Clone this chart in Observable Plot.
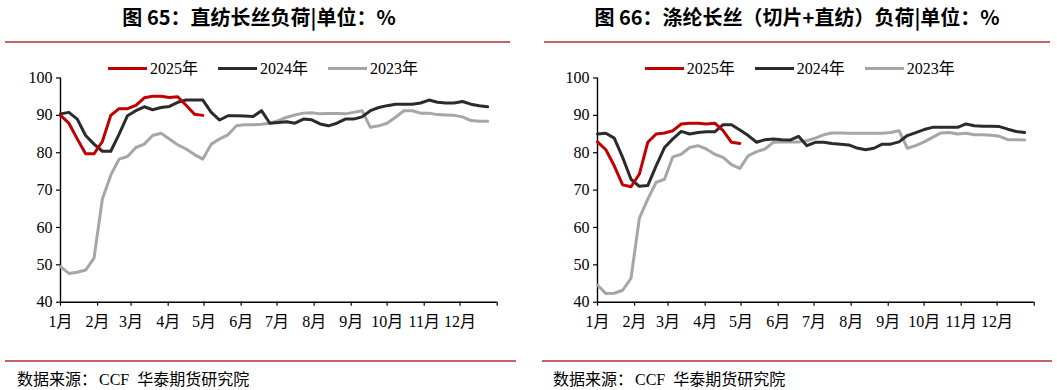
<!DOCTYPE html>
<html>
<head>
<meta charset="utf-8">
<script src="https://cdn.jsdelivr.net/npm/d3@7"></script>
<script src="https://cdn.jsdelivr.net/npm/@observablehq/plot@0.6"></script>
<style>
  body { margin: 0; background: #fff; }
  #wrap { position: relative; width: 1057px; height: 390px; background: #fff; overflow: hidden; }
  .title { position: absolute; top: 5px; transform: translateX(-50%); white-space: nowrap;
           font-family: "Noto Sans CJK SC", sans-serif; font-weight: bold; font-size: 20px; line-height: 24px; color: #000; }
  .sep { position: absolute; height: 2px; background: #c86464; }
  .src { position: absolute; top: 368px; white-space: nowrap; font-family: "Noto Sans CJK SC", sans-serif;
         font-size: 16px; line-height: 20px; color: #000; }
  .src .lat { font-family: "Liberation Serif", serif; margin-left: 2px; margin-right: 8px; }
  .sw { position: absolute; width: 39px; height: 3px; }
  .lt { position: absolute; top: 0; font-family: "Liberation Serif", "Noto Sans CJK SC", serif; font-size: 16px; line-height: 20px; color: #000; }
</style>
</head>
<body>
<div id="wrap"></div>
<script>
// ---------- data ----------
const seriesNames = ["2025年", "2024年", "2023年"];
const seriesColors = ["#c00000", "#2b2b2b", "#a6a6a6"];
const monthStarts = [0, 31, 59, 90, 120, 151, 181, 212, 243, 273, 304, 334, 365];
const monthLabels = ["1月","2月","3月","4月","5月","6月","7月","8月","9月","10月","11月","12月",""];
const yTicks = [40, 50, 60, 70, 80, 90, 100];

// weekly readings (week index -> day of year = week * 7)
const left2025 = [90, 87.9, 83.7, 79.7, 79.7, 83, 90, 91.8, 91.8, 92.7, 94.7, 95.1, 95.1, 94.8, 95, 92.7, 90.3, 90];
const left2024 = [90.4, 90.8, 89, 84.6, 82.3, 80.4, 80.4, 85, 89.9, 91.25, 92.3, 91.5, 92.1, 92.4, 93.5, 94.1, 94.1, 94.1, 90.8, 88.75,
                  89.9, 89.9, 89.8, 89.7, 91.25, 87.9, 88.1, 88.3, 87.9, 89, 88.8, 87.7, 87.2, 87.9, 89, 89, 89.6, 91.25, 92.1, 92.6,
                  93, 93, 93, 93.3, 94.1, 93.5, 93.3, 93.3, 93.7, 93, 92.6, 92.3];
const left2023 = [49.5, 47.7, 48, 48.6, 51.8, 67.6, 74, 78.3, 79, 81.4, 82.3, 84.6, 85.2, 83.7, 82.1, 81, 79.5, 78.3, 82.3, 83.7,
                  84.8, 87.2, 87.5, 87.5, 87.6, 87.9, 88.6, 89.5, 90.1, 90.6, 90.7, 90.4, 90.5, 90.5, 90.4, 90.8, 91.25, 86.8, 87.2, 87.9,
                  89.5, 91.25, 91.25, 90.6, 90.6, 90.2, 90.1, 90, 89.6, 88.6, 88.4, 88.4];

const right2025 = [82.9, 80.8, 76.5, 71.4, 70.9, 74.3, 82.8, 85, 85.3, 85.9, 87.7, 87.9, 87.9, 87.7, 87.9, 85.9, 82.8, 82.5];
const right2024 = [85, 85.2, 83.9, 78.75, 72.9, 71, 71.2, 76.5, 81.4, 83.7, 85.7, 85, 85.4, 85.6, 85.6, 87.5, 87.5, 86.1, 84.6, 82.8,
                   83.5, 83.7, 83.5, 83.4, 84.4, 81.9, 82.8, 82.8, 82.5, 82.3, 82.1, 81.25, 80.8, 81.2, 82.3, 82.3, 82.9, 84.6, 85.4, 86.2,
                   86.8, 86.8, 86.8, 86.8, 87.7, 87.2, 87.1, 87.1, 87, 86.3, 85.7, 85.4];
const right2023 = [44.6, 42.3, 42.4, 43.2, 46.4, 62.5, 67.6, 72.05, 72.9, 78.9, 79.6, 81.4, 81.9, 81, 79.6, 78.75, 76.8, 75.8, 79.2, 80.3,
                   81, 82.8, 82.9, 82.9, 82.9, 83.2, 83.9, 84.8, 85.3, 85.3, 85.2, 85.2, 85.2, 85.2, 85.2, 85.4, 85.9, 81.2, 81.9, 82.9,
                   84.1, 85.3, 85.4, 85, 85.2, 84.8, 84.8, 84.7, 84.4, 83.5, 83.5, 83.4];

const titles = ["图 65：直纺长丝负荷|单位：%", "图 66：涤纶长丝（切片+直纺）负荷|单位：%"];

// ---------- layout ----------
const wrap = document.getElementById("wrap");
const monthLabel = new Map(monthStarts.map((d, i) => [d, monthLabels[i]]));

function toRows(vals) { return vals.map((v, i) => ({day: i * 7, v})); }

function makeChart(s2025, s2024, s2023) {
  const lines = [s2023, s2024, s2025];
  const colors = [seriesColors[2], seriesColors[1], seriesColors[0]];
  return Plot.plot({
    width: 528, height: 275,
    marginLeft: 60, marginRight: 31.3, marginTop: 17.5, marginBottom: 33.3,
    x: {domain: [0, 365]},
    y: {domain: [40, 100]},
    style: {fontFamily: "'Liberation Serif', 'Noto Sans CJK SC', serif", fontSize: "16px", color: "#000", background: "transparent", overflow: "visible"},
    marks: [
      Plot.axisY({ticks: yTicks, tickSize: 4, tickPadding: 4, label: null, stroke: "#000", strokeWidth: 1.2}),
      Plot.axisX({ticks: monthStarts, tickFormat: d => monthLabel.get(d), tickSize: 4, tickPadding: 9, label: null, stroke: "#000", strokeWidth: 1.2}),
      Plot.ruleX([0], {stroke: "#000", strokeWidth: 1.4}),
      Plot.ruleY([40], {stroke: "#000", strokeWidth: 1.4}),
      ...lines.map((s, k) => Plot.lineY(toRows(s), {x: "day", y: "v", stroke: colors[k], strokeWidth: 3, strokeLinejoin: "round"}))
    ]
  });
}

const panels = [
  {dx: 0, data: [left2025, left2024, left2023], titleX: 259, sepTop: [5, 510], sepBot: [5, 516], srcX: 17},
  {dx: 536.7, data: [right2025, right2024, right2023], titleX: 797, sepTop: [544, 1050], sepBot: [542, 1052], srcX: 553}
];

panels.forEach((p, pi) => {
  const t = document.createElement("div");
  t.className = "title"; t.style.left = p.titleX + "px"; t.textContent = titles[pi];
  wrap.appendChild(t);

  const s1 = document.createElement("div");
  s1.className = "sep"; s1.style.top = "41px"; s1.style.left = p.sepTop[0] + "px"; s1.style.width = (p.sepTop[1] - p.sepTop[0]) + "px";
  wrap.appendChild(s1);

  const s2 = document.createElement("div");
  s2.className = "sep"; s2.style.top = "360px"; s2.style.left = p.sepBot[0] + "px"; s2.style.width = (p.sepBot[1] - p.sepBot[0]) + "px";
  wrap.appendChild(s2);

  const src = document.createElement("div");
  src.className = "src"; src.style.left = p.srcX + "px";
  src.innerHTML = '数据来源：<span class="lat">CCF</span>华泰期货研究院';
  wrap.appendChild(src);

  // legend
  const legStarts = [108, 218, 328];
  seriesNames.forEach((name, k) => {
    const sw = document.createElement("div");
    sw.className = "sw"; sw.style.left = (p.dx + legStarts[k]) + "px"; sw.style.top = "67px"; sw.style.background = seriesColors[k];
    wrap.appendChild(sw);
    const lt = document.createElement("div");
    lt.className = "lt"; lt.style.left = (p.dx + legStarts[k] + 42) + "px"; lt.style.top = "59px"; lt.textContent = name;
    wrap.appendChild(lt);
  });

  const chart = makeChart(...p.data);
  chart.style.position = "absolute";
  chart.style.left = p.dx + "px";
  chart.style.top = "60px";
  wrap.appendChild(chart);
});
</script>
</body>
</html>
